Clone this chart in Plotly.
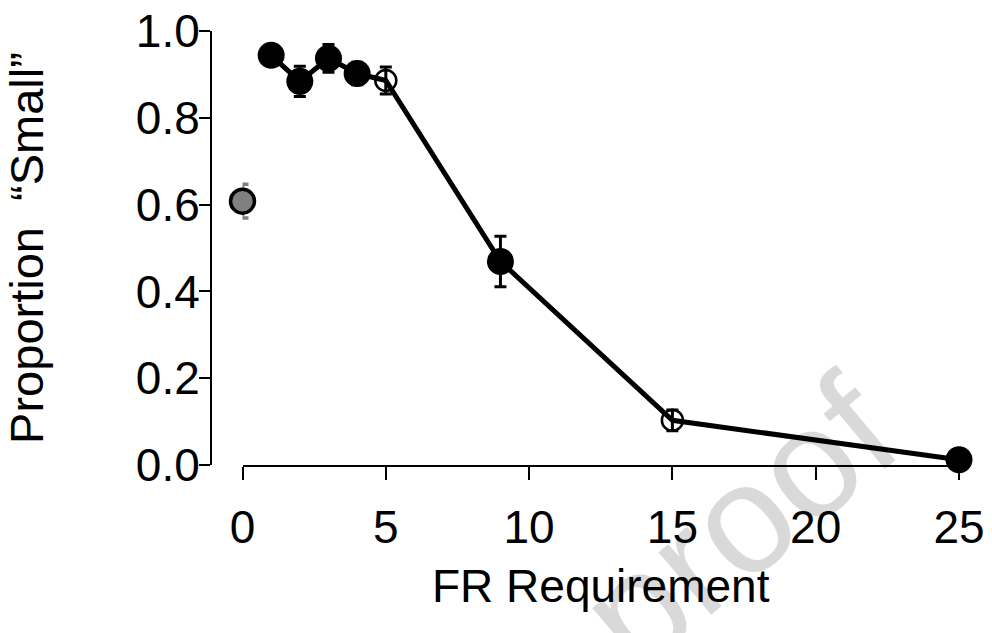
import plotly.graph_objects as go

# Data
fr_line = [1, 2, 3, 4, 5, 9, 15, 25]
prop_line = [0.944, 0.884, 0.937, 0.902, 0.886, 0.469, 0.103, 0.012]

fr_filled = [1, 2, 3, 4, 9, 25]
prop_filled = [0.944, 0.884, 0.937, 0.902, 0.469, 0.012]
err_filled = [0.008, 0.035, 0.032, 0.026, 0.058, 0.006]

fr_open = [5, 15]
prop_open = [0.886, 0.103]
err_open = [0.031, 0.024]

fr_base = [0]
prop_base = [0.608]
err_base = [0.039]

x_ticks = [0, 5, 10, 15, 20, 25]
y_ticks = [0.0, 0.2, 0.4, 0.6, 0.8, 1.0]
y_ticklabels = ["0.0", "0.2", "0.4", "0.6", "0.8", "1.0"]

FONT = "Liberation Sans, Arial, sans-serif"

W, H = 992, 633
x0_px, x25_px = 242.5, 959
y1_px, y0_px = 30.5, 465.5
yaxis_px = 211
L = 150
R = W - x25_px
T = y1_px
B = H - y0_px
pw = W - L - R
ph = H - T - B

fig = go.Figure()

# connecting line
fig.add_trace(go.Scatter(
    x=fr_line, y=prop_line, mode="lines",
    line=dict(color="black", width=5), showlegend=False, hoverinfo="skip",
    cliponaxis=False))

# baseline gray point
fig.add_trace(go.Scatter(
    x=fr_base, y=prop_base, mode="markers",
    marker=dict(size=24, color="#808080", line=dict(color="black", width=3.5)),
    error_y=dict(type="data", array=err_base, color="#808080", thickness=3.5, width=6),
    showlegend=False, cliponaxis=False))

# filled points
fig.add_trace(go.Scatter(
    x=fr_filled, y=prop_filled, mode="markers",
    marker=dict(size=27, color="black", line=dict(width=0)),
    error_y=dict(type="data", array=err_filled, color="black", thickness=3, width=6),
    showlegend=False, cliponaxis=False))

# open points
fig.add_trace(go.Scatter(
    x=fr_open, y=prop_open, mode="markers",
    marker=dict(size=21, color="rgba(0,0,0,0)", line=dict(color="black", width=2.5)),
    error_y=dict(type="data", array=err_open, color="black", thickness=3, width=6),
    showlegend=False, cliponaxis=False))

fig.update_layout(
    width=W, height=H,
    margin=dict(l=L, r=R, t=T, b=B),
    paper_bgcolor="white", plot_bgcolor="white",
    font=dict(family=FONT, color="black", size=46),
    xaxis=dict(
        range=[0, 25], domain=[(x0_px - L) / pw, 1],
        tickvals=x_ticks, ticks="outside", ticklen=13, tickwidth=2, tickcolor="black",
        showline=True, linecolor="black", linewidth=2, showgrid=False, zeroline=False,
        tickfont=dict(size=46), automargin=False, ticklabelstandoff=8,
        ticklabeloverflow="allow",
        title=dict(text="FR Requirement", font=dict(size=46), standoff=18),
        anchor="y",
    ),
    yaxis=dict(
        range=[0, 1], domain=[0, 1],
        tickvals=y_ticks, ticktext=y_ticklabels, ticks="outside", ticklen=11, tickwidth=2,
        tickcolor="black", showline=True, linecolor="black", linewidth=2,
        showgrid=False, zeroline=False, anchor="free", position=(yaxis_px - L) / pw,
        tickfont=dict(size=46), automargin=False, ticklabelstandoff=-10,
        ticklabeloverflow="allow",
        title=dict(text="Proportion  \u201cSmall\u201d", font=dict(size=47), standoff=81),
    ),
    annotations=[dict(
        text="proof", x=(738 - L) / pw, y=(H - B - 523) / ph, xref="paper", yref="paper",
        xanchor="center", yanchor="middle",
        showarrow=False, textangle=-40,
        font=dict(size=155, family=FONT, color="rgba(0,0,0,0.15)"),
    )],
)

fig.write_html("out.html", config={"displayModeBar": False},
               post_script="document.body.style.margin='0';")
